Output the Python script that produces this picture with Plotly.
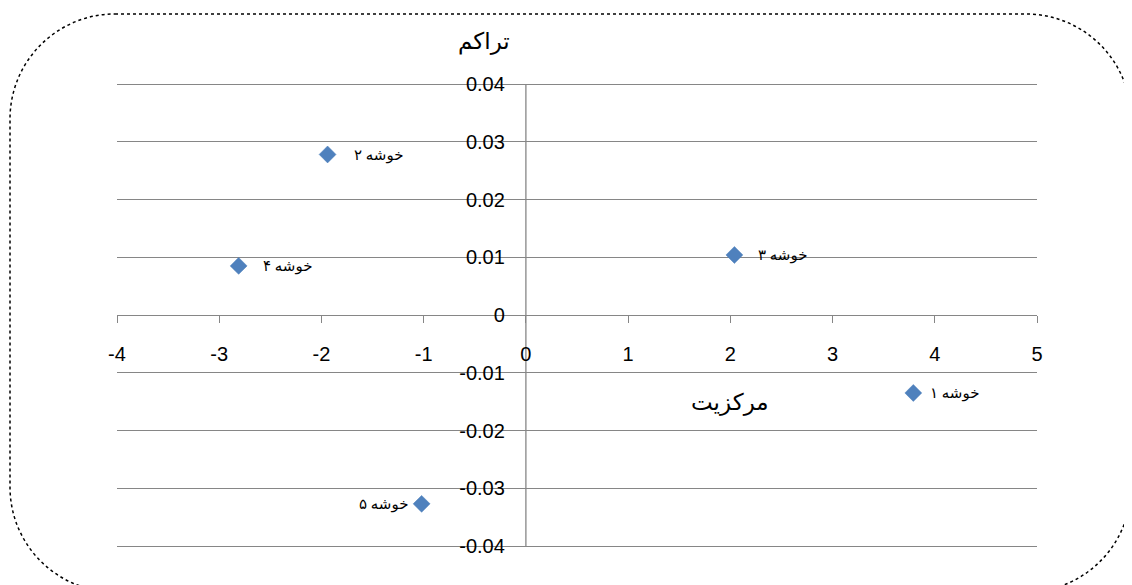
import plotly.graph_objects as go

# Data
labels = ["خوشه ۱", "خوشه ۲", "خوشه ۳", "خوشه ۴", "خوشه ۵"]
centrality = [3.79, -1.94, 2.04, -2.81, -1.02]
density = [-0.0135, 0.0278, 0.0104, 0.0085, -0.0327]
x_title = "مرکزیت"
y_title = "تراکم"
x_ticks = [-4, -3, -2, -1, 0, 1, 2, 3, 4, 5]
y_ticks = [-0.04, -0.03, -0.02, -0.01, 0, 0.01, 0.02, 0.03, 0.04]

# label placement styles (per point)
label_side = ["right", "right", "right", "right", "left"]
label_shift = [15, 24, 22, 22, -12]

W, H = 1132, 585
OFF = 8  # page body margin offset
PAD = 3  # extra px so edge gridlines are drawn
# target plot box in screenshot pixels (y range -0.04..0.04 maps to 546..84)
X0, X1, Y0, Y1 = 117, 1037, 84 - PAD, 546 + PAD
L, T = X0 - OFF, Y0 - OFF
R, B = W - (X1 - OFF), H - (Y1 - OFF)
pw, ph = X1 - X0, Y1 - Y0
ypad = PAD * 0.08 / 462

def px(x):
    return (x - X0) / pw

def py(y):
    return (Y1 - y) / ph

fig = go.Figure()
fig.add_trace(go.Scatter(
    x=centrality, y=density, mode="markers",
    marker=dict(symbol="diamond", size=13, color="#4F81BD",
                line=dict(color="#4A7EBB", width=0.5)),
    hoverinfo="skip", showlegend=False,
))

afont = "Liberation Serif, DejaVu Sans, serif"
annotations = []
for lab, xv, yv, side, sh in zip(labels, centrality, density, label_side, label_shift):
    annotations.append(dict(
        x=xv, y=yv, xref="x", yref="y", text=lab, showarrow=False,
        xanchor="left" if side == "right" else "right", yanchor="middle",
        xshift=sh, yshift=-1,
        font=dict(family=afont, size=15, color="black"),
    ))

annotations.append(dict(x=px(484), y=py(42), xref="paper", yref="paper", text=y_title,
                        showarrow=False, xanchor="center", yanchor="middle",
                        font=dict(family=afont, size=23, color="black")))
annotations.append(dict(x=px(730), y=py(403), xref="paper", yref="paper", text=x_title,
                        showarrow=False, xanchor="center", yanchor="middle",
                        font=dict(family=afont, size=23, color="black")))

# rounded dotted border (screenshot pixel coords -> paper)
bl, br, bt, bb, r = 10, 1131, 14, 592, 105
k = 0.5523 * r
pts = [
    ("M", [(bl + r, bt)]),
    ("L", [(br - r, bt)]),
    ("C", [(br - r + k, bt), (br, bt + r - k), (br, bt + r)]),
    ("L", [(br, bb - r)]),
    ("C", [(br, bb - r + k), (br - r + k, bb), (br - r, bb)]),
    ("L", [(bl + r, bb)]),
    ("C", [(bl + r - k, bb), (bl, bb - r + k), (bl, bb - r)]),
    ("L", [(bl, bt + r)]),
    ("C", [(bl, bt + r - k), (bl + r - k, bt), (bl + r, bt)]),
]
path = ""
for cmd, cps in pts:
    path += cmd + " " + " ".join(f"{px(a):.5f},{py(b):.5f}" for a, b in cps) + " "
path += "Z"

fig.update_layout(
    width=W, height=H,
    margin=dict(l=L, r=R, t=T, b=B, autoexpand=False),
    paper_bgcolor="white", plot_bgcolor="white",
    annotations=annotations,
    shapes=[dict(type="path", path=path, xref="paper", yref="paper",
                 line=dict(color="black", width=1.5, dash="dot"), layer="above")],
    xaxis=dict(
        range=[-4, 5], tickvals=x_ticks, ticktext=[str(v) for v in x_ticks],
        showgrid=False, zeroline=False, showline=True, linecolor="#868686", linewidth=1.3,
        ticks="outside", ticklen=7, tickcolor="#868686", tickwidth=1.3,
        anchor="free", position=0.5, ticklabelstandoff=14,
        tickfont=dict(family="Liberation Sans, Arial, sans-serif", size=20, color="black"),
    ),
    yaxis=dict(
        range=[-0.04 - ypad, 0.04 + ypad], tickvals=y_ticks, ticktext=[f"{v:g}" for v in y_ticks],
        showgrid=True, gridcolor="#868686", gridwidth=1.3,
        zeroline=False, showline=False,
        ticks="outside", ticklen=5, tickcolor="#868686", tickwidth=1.3,
        anchor="free", position=4 / 9, ticklabelstandoff=12,
        tickfont=dict(family="Liberation Sans, Arial, sans-serif", size=20, color="black"),
    ),
)
# vertical axis line spanning exactly -0.04..0.04
fig.add_shape(type="line", x0=0, x1=0, y0=-0.04, y1=0.04, xref="x", yref="y",
              line=dict(color="#868686", width=1.3), layer="below")

fig.write_html("out.html")
